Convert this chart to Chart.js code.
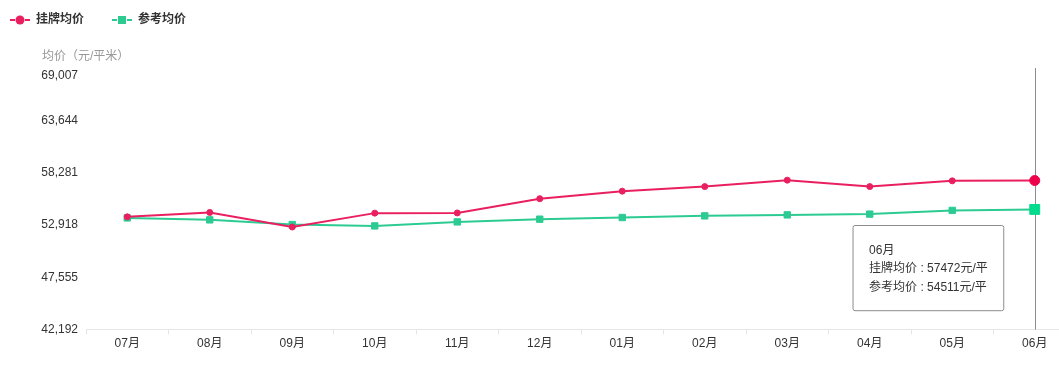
<!DOCTYPE html>
<html>
<head>
<meta charset="utf-8">
<script src="https://cdn.jsdelivr.net/npm/chart.js@4"></script>
<style>
    body { margin: 0; overflow: hidden; background: #fff; }
    #wrap { width: 1084px; height: 365px; }
</style>
</head>
<body>
<div id="wrap"><canvas id="price-chart" width="1084" height="365"></canvas></div>
<script>
// Chart data
const months = ['07月', '08月', '09月', '10月', '11月', '12月', '01月', '02月', '03月', '04月', '05月', '06月'];
const listingPrice = [53750, 54200, 52710, 54130, 54150, 55610, 56380, 56850, 57510, 56850, 57440, 57472];
const referencePrice = [53640, 53440, 52960, 52820, 53230, 53510, 53680, 53850, 53950, 54030, 54410, 54511];
const yMin = 42192;
const yMax = 69007;
const yStep = 5363;
const unitLabel = '均价（元/平米）';

const RED = '#e91f5f';
const GREEN = '#2ccb92';
const FONT = "'Liberation Sans', 'Noto Sans CJK SC', sans-serif";

// legend icon: short line with a marker in the middle
function legendIcon(color, square) {
    const c = document.createElement('canvas');
    c.width = 20;
    c.height = 10;
    const ctx = c.getContext('2d');
    ctx.fillStyle = color;
    ctx.fillRect(0, 4, 5, 2);
    ctx.fillRect(15, 4, 5, 2);
    if (square) {
        ctx.fillRect(6, 1, 8, 8);
    } else {
        ctx.beginPath();
        ctx.arc(10, 5, 4.5, 0, Math.PI * 2);
        ctx.fill();
    }
    return c;
}

// box above the plot holding the unit text of the y axis
const unitBox = {
    position: 'top',
    weight: 500,
    fullSize: true,
    options: {},
    top: 0, left: 0, right: 0, bottom: 0, width: 0, height: 0,
    isHorizontal() { return true; },
    update(maxWidth) {
        this.width = maxWidth;
        this.height = 32;
    },
    draw() {
        const ctx = this.chart.ctx;
        ctx.save();
        ctx.font = '12px ' + FONT;
        ctx.fillStyle = '#999';
        ctx.textBaseline = 'middle';
        ctx.fillText(unitLabel, 42, this.bottom - 11);
        ctx.restore();
    }
};

const unitPlugin = {
    id: 'unitPlugin',
    install(chart) {
        unitBox.chart = chart;
        Chart.layouts.addBox(chart, unitBox);
    }
};

// vertical pointer line at the hovered month
const pointerLine = {
    id: 'pointerLine',
    beforeDatasetsDraw(chart) {
        const active = chart.tooltip.getActiveElements();
        if (!active.length) return;
        const x = active[0].element.x;
        const area = chart.chartArea;
        const ctx = chart.ctx;
        ctx.save();
        ctx.strokeStyle = '#8c8c8c';
        ctx.lineWidth = 1;
        ctx.beginPath();
        ctx.moveTo(Math.round(x) + 0.5, area.top);
        ctx.lineTo(Math.round(x) + 0.5, area.bottom);
        ctx.stroke();
        ctx.restore();
    }
};

Chart.Tooltip.positioners.leftOfPoint = function (items) {
    if (!items.length) return false;
    const area = this.chart.chartArea;
    return { x: items[0].element.x - 31, y: area.bottom - 61.5 };
};

const chart = new Chart(document.getElementById('price-chart'), {
    type: 'line',
    data: {
        labels: months,
        datasets: [{
            label: '挂牌均价',
            data: listingPrice,
            borderColor: RED,
            backgroundColor: RED,
            borderWidth: 2,
            pointStyle: 'circle',
            pointRadius: 3,
            pointHoverRadius: 5,
            pointBorderWidth: 1,
            pointHoverBorderWidth: 1,
            tension: 0
        }, {
            label: '参考均价',
            data: referencePrice,
            borderColor: GREEN,
            backgroundColor: GREEN,
            borderWidth: 2,
            pointStyle: 'rect',
            pointRadius: 4.5,
            pointHoverRadius: 7,
            pointBorderWidth: 1,
            pointHoverBorderWidth: 1,
            tension: 0
        }]
    },
    options: {
        responsive: false,
        animation: false,
        devicePixelRatio: 1,
        layout: { padding: { left: 0, right: 0, top: 4, bottom: 12 } },
        interaction: { mode: 'index', intersect: false },
        scales: {
            x: {
                offset: true,
                grid: { offset: true, drawOnChartArea: false, tickLength: 5, color: '#e6e6e6' },
                border: { color: '#e6e6e6' },
                ticks: { color: '#333', padding: 2, font: { size: 12, family: FONT } }
            },
            y: {
                min: yMin,
                max: yMax,
                afterFit: scale => { scale.width = 86; },
                grid: { display: false },
                border: { display: false },
                ticks: {
                    stepSize: yStep,
                    padding: 0,
                    color: '#333',
                    font: { size: 12, family: FONT },
                    // top label sits just under the axis top, so push it down one line
                    callback: v => v === yMax ? ['', v.toLocaleString('en-US')] : v.toLocaleString('en-US')
                }
            }
        },
        plugins: {
            legend: {
                position: 'top',
                align: 'start',
                labels: {
                    usePointStyle: true,
                    pointStyleWidth: 20,
                    padding: 10,
                    color: '#333',
                    font: { size: 12, weight: 'bold', family: FONT },
                    generateLabels: c => c.data.datasets.map((ds, i) => ({
                        text: ds.label + '\u3000\u2002',
                        pointStyle: legendIcon(ds.borderColor, i === 1),
                        fontColor: '#333',
                        lineWidth: 0,
                        datasetIndex: i
                    }))
                }
            },
            tooltip: {
                position: 'leftOfPoint',
                xAlign: 'right',
                yAlign: 'center',
                caretSize: 0,
                caretPadding: 0,
                backgroundColor: '#fff',
                borderColor: '#8c8c8c',
                borderWidth: 1,
                cornerRadius: 2,
                displayColors: false,
                padding: { top: 18, bottom: 16, left: 16, right: 16 },
                titleColor: '#333',
                bodyColor: '#333',
                titleFont: { size: 12, weight: 'normal', family: FONT },
                bodyFont: { size: 12, family: FONT },
                titleMarginBottom: 4,
                bodySpacing: 4,
                callbacks: {
                    label: item => item.dataset.label + ' : ' + item.raw + '元/平'
                }
            }
        }
    },
    plugins: [unitPlugin, pointerLine]
});

// show the last month as in the reference
const last = months.length - 1;
const activeItems = [{ datasetIndex: 0, index: last }, { datasetIndex: 1, index: last }];
chart.setActiveElements(activeItems);
chart.tooltip.setActiveElements(activeItems, { x: 0, y: 0 });
chart.update();
</script>
</body>
</html>
